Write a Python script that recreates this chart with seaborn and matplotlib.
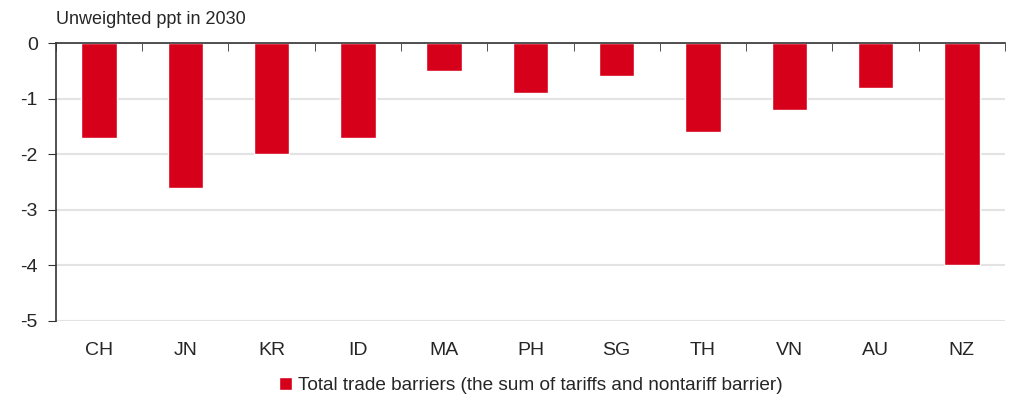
import matplotlib
matplotlib.use("Agg")
import matplotlib.pyplot as plt
import seaborn as sns
import pandas as pd
import numpy as np

# Valores (ppt en 2030)
countries = ["CH", "JN", "KR", "ID", "MA", "PH", "SG", "TH", "VN", "AU", "NZ"]
values = [-1.7, -2.6, -2.0, -1.7, -0.5, -0.9, -0.6, -1.6, -1.2, -0.8, -4.0]
y_ticks = [0, -1, -2, -3, -4, -5]
series_name = "Total trade barriers (the sum of tariffs and nontariff barrier)"

sns.set_style("white")
plt.rcParams["font.family"] = ["Liberation Sans", "DejaVu Sans"]

df = pd.DataFrame({"country": countries, "value": values, "serie": series_name})

fig = plt.figure(figsize=(10.35, 4.11), dpi=100)
ax = fig.add_axes([0.054, 0.219, 0.917, 0.676])

sns.barplot(data=df, x="country", y="value", hue="serie", palette=["#d7001a"],
            saturation=1, width=0.41, ax=ax, legend=True)

ax.set_ylim(-5, 0)
ax.set_xlim(-0.5, len(countries) - 0.5)
ax.set_yticks(y_ticks)
ax.set_yticklabels([str(t) for t in y_ticks], fontsize=14)
ax.yaxis.grid(True, color="#e3e3e3", linewidth=1.5)
ax.set_axisbelow(True)

# ticks entre categorias en la linea del cero
ax.set_xticks(np.arange(len(countries)))
ax.set_xticklabels(countries, fontsize=14)
ax.set_xticks(np.arange(-0.5, len(countries)), minor=True)
ax.tick_params(axis="x", which="major", length=0, pad=15)
ax.tick_params(axis="x", which="minor", top=True, bottom=False, direction="in",
               length=6, color="#333333")
ax.tick_params(axis="y", length=6, direction="out", color="#333333", left=True, pad=7)

for s in ["right", "bottom"]:
    ax.spines[s].set_visible(False)
ax.spines["top"].set_color("#333333")
ax.spines["left"].set_color("#333333")
ax.spines["top"].set_linewidth(1.2)
ax.spines["left"].set_linewidth(1.2)

ax.set_xlabel("")
ax.set_ylabel("")
ax.text(0.0, 1.055, "Unweighted ppt in 2030", transform=ax.transAxes,
        fontsize=13, va="bottom", ha="left")

leg = ax.legend(loc="upper center", bbox_to_anchor=(0.5, -0.14), frameon=False,
                fontsize=13.7, handlelength=0.7, handleheight=0.7, handletextpad=0.3)

plt.savefig("out.png", dpi=100)
